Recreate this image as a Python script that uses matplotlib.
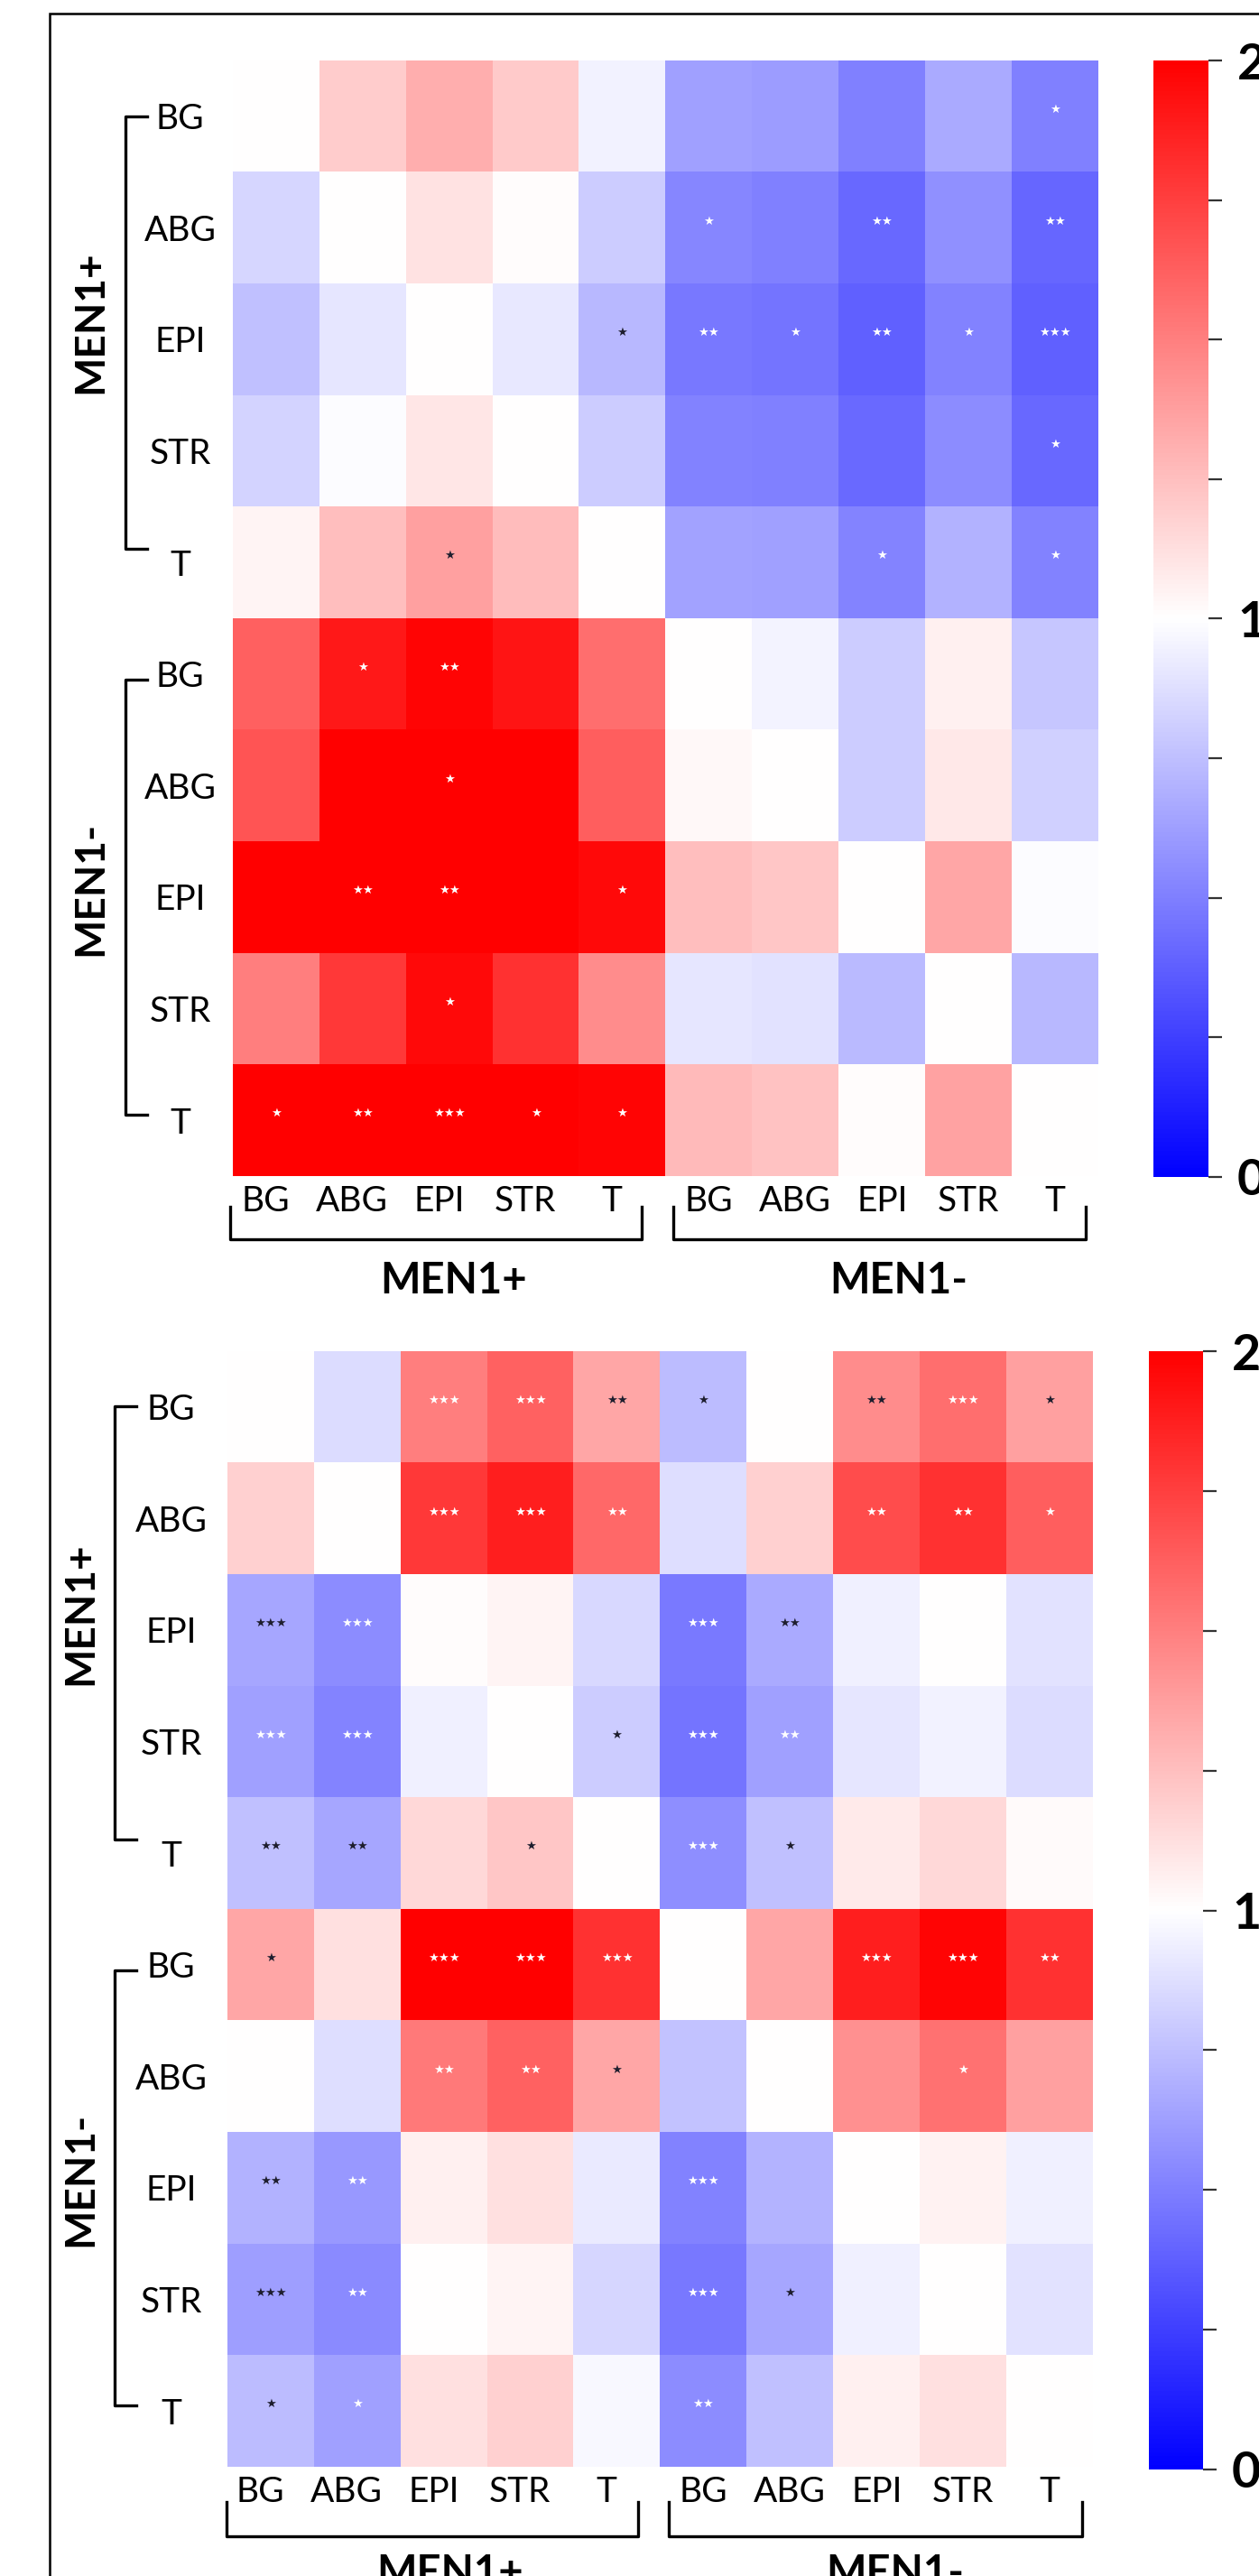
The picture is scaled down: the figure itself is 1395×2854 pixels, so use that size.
import matplotlib
matplotlib.use('Agg')
import matplotlib.pyplot as plt
import matplotlib.transforms as mtransforms
from matplotlib.lines import Line2D
from matplotlib.patches import Rectangle
import numpy as np

W, H = 1395, 2854
DPI = 100

tissues = ['BG', 'ABG', 'EPI', 'STR', 'T']
labels = tissues + tissues
groups = ['MEN1+', 'MEN1-']
cbar_ticks = [0, 0.25, 0.5, 0.75, 1, 1.25, 1.5, 1.75, 2]
cbar_labels = ['0', '', '', '', '1', '', '', '', '2']

# fold change, rows x columns (upper panel)
top_vals = [
    [1.00, 1.20, 1.32, 1.21, 0.95, 0.63, 0.61, 0.50, 0.67, 0.50],
    [0.84, 1.00, 1.11, 1.01, 0.80, 0.53, 0.50, 0.41, 0.57, 0.40],
    [0.75, 0.90, 1.00, 0.91, 0.72, 0.47, 0.46, 0.38, 0.51, 0.38],
    [0.83, 0.99, 1.10, 1.00, 0.80, 0.51, 0.50, 0.42, 0.55, 0.41],
    [1.04, 1.25, 1.37, 1.26, 1.00, 0.64, 0.63, 0.52, 0.70, 0.51],
    [1.62, 1.90, 1.98, 1.92, 1.57, 1.00, 0.96, 0.80, 1.06, 0.78],
    [1.67, 2.00, 2.00, 2.00, 1.63, 1.03, 1.00, 0.80, 1.09, 0.82],
    [2.00, 2.00, 2.00, 2.00, 1.96, 1.25, 1.22, 1.00, 1.35, 0.99],
    [1.50, 1.78, 1.96, 1.80, 1.45, 0.90, 0.89, 0.73, 1.00, 0.72],
    [2.00, 2.00, 2.00, 2.00, 1.98, 1.27, 1.24, 1.01, 1.36, 1.00],
]

# fold change, rows x columns (lower panel)
bottom_vals = [
    [1.00, 0.86, 1.50, 1.61, 1.35, 0.74, 1.00, 1.45, 1.57, 1.37],
    [1.18, 1.00, 1.78, 1.88, 1.59, 0.87, 1.18, 1.70, 1.80, 1.63],
    [0.65, 0.55, 1.01, 1.04, 0.85, 0.48, 0.67, 0.94, 1.00, 0.89],
    [0.63, 0.52, 0.94, 1.00, 0.80, 0.46, 0.63, 0.90, 0.95, 0.86],
    [0.75, 0.65, 1.15, 1.22, 1.00, 0.56, 0.75, 1.08, 1.15, 1.02],
    [1.35, 1.12, 2.00, 2.00, 1.80, 1.00, 1.35, 1.88, 1.98, 1.80],
    [1.00, 0.87, 1.52, 1.61, 1.35, 0.76, 1.00, 1.43, 1.55, 1.37],
    [0.70, 0.60, 1.06, 1.12, 0.92, 0.51, 0.71, 1.00, 1.05, 0.94],
    [0.62, 0.54, 1.00, 1.04, 0.84, 0.47, 0.65, 0.94, 1.00, 0.89],
    [0.74, 0.63, 1.12, 1.18, 0.97, 0.55, 0.75, 1.06, 1.12, 1.00],
]

# significance marks: (row, col, stars, colour)
top_marks = [
    (0, 9, '*', 'w'),
    (1, 5, '*', 'w'), (1, 7, '**', 'w'), (1, 9, '**', 'w'),
    (2, 4, '*', 'k'), (2, 5, '**', 'w'), (2, 6, '*', 'w'), (2, 7, '**', 'w'),
    (2, 8, '*', 'w'), (2, 9, '***', 'w'),
    (3, 9, '*', 'w'),
    (4, 2, '*', 'k'), (4, 7, '*', 'w'), (4, 9, '*', 'w'),
    (5, 1, '*', 'w'), (5, 2, '**', 'w'),
    (6, 2, '*', 'w'),
    (7, 1, '**', 'w'), (7, 2, '**', 'w'), (7, 4, '*', 'w'),
    (8, 2, '*', 'w'),
    (9, 0, '*', 'w'), (9, 1, '**', 'w'), (9, 2, '***', 'w'), (9, 3, '*', 'w'),
    (9, 4, '*', 'w'),
]

bottom_marks = [
    (0, 2, '***', 'w'), (0, 3, '***', 'w'), (0, 4, '**', 'k'), (0, 5, '*', 'k'),
    (0, 7, '**', 'k'), (0, 8, '***', 'w'), (0, 9, '*', 'k'),
    (1, 2, '***', 'w'), (1, 3, '***', 'w'), (1, 4, '**', 'w'), (1, 7, '**', 'w'),
    (1, 8, '**', 'w'), (1, 9, '*', 'w'),
    (2, 0, '***', 'k'), (2, 1, '***', 'w'), (2, 5, '***', 'w'), (2, 6, '**', 'k'),
    (3, 0, '***', 'w'), (3, 1, '***', 'w'), (3, 4, '*', 'k'), (3, 5, '***', 'w'),
    (3, 6, '**', 'w'),
    (4, 0, '**', 'k'), (4, 1, '**', 'k'), (4, 3, '*', 'k'), (4, 5, '***', 'w'),
    (4, 6, '*', 'k'),
    (5, 0, '*', 'k'), (5, 2, '***', 'w'), (5, 3, '***', 'w'), (5, 4, '***', 'w'),
    (5, 7, '***', 'w'), (5, 8, '***', 'w'), (5, 9, '**', 'w'),
    (6, 2, '**', 'w'), (6, 3, '**', 'w'), (6, 4, '*', 'k'), (6, 8, '*', 'w'),
    (7, 0, '**', 'k'), (7, 1, '**', 'w'), (7, 5, '***', 'w'),
    (8, 0, '***', 'k'), (8, 1, '**', 'w'), (8, 5, '***', 'w'), (8, 6, '*', 'k'),
    (9, 0, '*', 'k'), (9, 1, '*', 'w'), (9, 5, '**', 'w'),
]

FONT = ['Lato', 'DejaVu Sans']
plt.rcParams['font.family'] = FONT


def px_rect(l, t, r, b):
    return [l / W, 1 - b / H, (r - l) / W, (b - t) / H]


def panel(fig, box, cbox, vals, marks, lab_pad, vx, tick_x, ybr, xbr, gx, gy):
    ax = fig.add_axes(px_rect(*box))
    im = ax.imshow(np.array(vals), cmap='bwr', vmin=0, vmax=2, aspect='auto',
                   interpolation='nearest', extent=(0, 10, 10, 0))
    for s in ax.spines.values():
        s.set_visible(False)

    xpos = [i + 0.5 - (0.12 if i < 5 else 0) for i in range(10)]
    ax.set_xticks(xpos)
    ax.set_xticklabels(labels, fontsize=28)
    ax.set_yticks(np.arange(10) + 0.5)
    ax.set_yticklabels(labels, fontsize=28, ha='center')
    ax.tick_params(axis='x', length=0, pad=7)
    ax.tick_params(axis='y', length=0, pad=lab_pad)

    for r, c, st, col in marks:
        ax.text(c + 0.5, r + 0.44, '\u2605' * len(st), ha='center', va='center',
                fontsize=9.5, family='DejaVu Sans',
                color='white' if col == 'w' else '#1e1e2e')

    # row brackets
    tr_y = mtransforms.blended_transform_factory(ax.transAxes, ax.transData)
    for (y0, y1), name, ly in zip(ybr, groups, gy):
        ax.add_line(Line2D([tick_x[1], tick_x[0], tick_x[0], tick_x[1]],
                           [y0, y0, y1, y1], transform=tr_y, color='black',
                           lw=2.4, clip_on=False, solid_joinstyle='round'))
        ax.text(vx, ly, name, transform=tr_y, rotation=90, ha='center',
                va='center', fontsize=33, fontweight='bold')

    # column brackets
    tr_x = mtransforms.blended_transform_factory(ax.transData, ax.transAxes)
    yt, yb, ylab = xbr[0]
    for (x0, x1), name, lx in zip(xbr[1:], groups, gx):
        ax.add_line(Line2D([x0, x0, x1, x1], [yt, yb, yb, yt], transform=tr_x,
                           color='black', lw=2.4, clip_on=False,
                           solid_joinstyle='round'))
        ax.text(lx, ylab, name, transform=tr_x, ha='center', va='baseline',
                fontsize=34, fontweight='bold')

    cax = fig.add_axes(px_rect(*cbox))
    cb = fig.colorbar(im, cax=cax, ticks=cbar_ticks)
    cb.outline.set_visible(False)
    cb.ax.set_yticklabels(cbar_labels)
    cb.ax.tick_params(length=11, width=1.6, color='#333333', pad=12,
                      labelsize=40)
    for t in cb.ax.get_yticklabels():
        t.set_fontweight('bold')
    return ax


fig = plt.figure(figsize=(W / DPI, H / DPI), dpi=DPI)

panel(fig, (258, 67, 1217, 1303), (1278, 67, 1339, 1304), top_vals, top_marks,
      lab_pad=42, vx=-0.164, tick_x=(-0.124, -0.099),
      ybr=[(0.5, 4.38), (5.55, 9.45)],
      xbr=[(-0.0275, -0.0566, -0.105), (-0.03, 4.72), (5.09, 9.85)],
      gx=[2.55, 7.69], gy=[2.34, 7.42])

panel(fig, (252, 1497, 1211, 2733), (1273, 1497, 1333, 2736), bottom_vals,
      bottom_marks, lab_pad=45, vx=-0.170, tick_x=(-0.130, -0.105),
      ybr=[(0.49, 4.38), (5.55, 9.45)],
      xbr=[(-0.0316, -0.0623, -0.107), (-0.01, 4.74), (5.10, 9.875)],
      gx=[2.57, 7.71], gy=[2.35, 7.42])

# outer frame
fig.add_artist(Rectangle((55 / W, -0.05), 1.0, 1 - 15 / H + 0.05,
                         transform=fig.transFigure, fill=False, lw=1.8,
                         edgecolor='black', clip_on=False))

fig.savefig('out.png', dpi=DPI)
